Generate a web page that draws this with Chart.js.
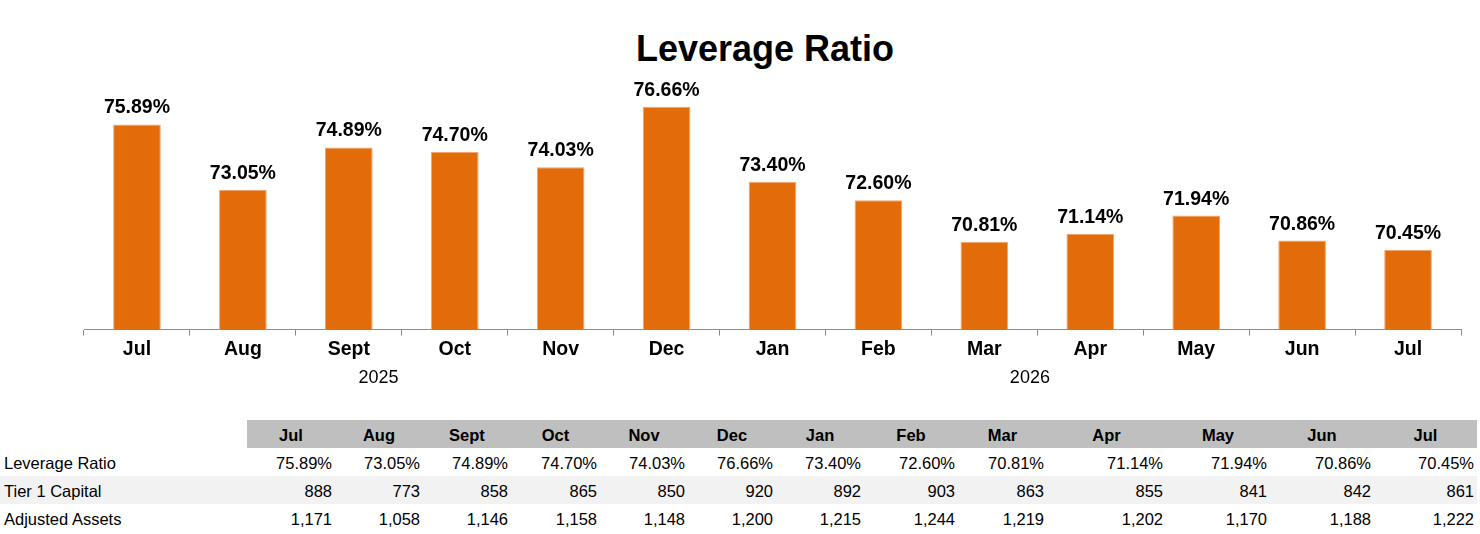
<!DOCTYPE html>
<html>
<head>
<meta charset="utf-8">
<script src="https://cdn.jsdelivr.net/npm/chart.js@4.4.1/dist/chart.umd.min.js"></script>
<style>
  html, body { margin: 0; padding: 0; background: #fff; }
  body { width: 1480px; height: 534px; position: relative; overflow: hidden;
         font-family: "Liberation Sans", Arial, sans-serif; color: #000; }
  #title { position: absolute; left: 636px; top: 31px; font-size: 36px; line-height: 36px;
           font-weight: bold; white-space: nowrap; }
  #chartBox { position: absolute; left: 0; top: 0; width: 1480px; height: 400px; }
  #tbl { position: absolute; left: 0; top: 420px; border-collapse: collapse; table-layout: fixed;
         font-size: 16.5px; }
  #tbl td, #tbl th { padding: 2px 0 0 0; height: 26px; line-height: 26px; white-space: nowrap; }
  #tbl th { font-weight: bold; text-align: center; background: #bfbfbf; }
  #tbl th.blank { background: #fff; }
  #tbl td { text-align: right; padding-right: 3px; }
  #tbl td.name { text-align: left; padding-left: 4px; padding-right: 0; }
  #tbl tr.shade td { background: #f2f2f2; }
</style>
</head>
<body>
<div id="title">Leverage Ratio</div>
<div id="chartBox"><canvas id="myChart" width="1480" height="400"></canvas></div>
<table id="tbl"></table>
<script>
const months = ['Jul', 'Aug', 'Sept', 'Oct', 'Nov', 'Dec', 'Jan', 'Feb', 'Mar', 'Apr', 'May', 'Jun', 'Jul'];
const leverageRatio = [75.89, 73.05, 74.89, 74.70, 74.03, 76.66, 73.40, 72.60, 70.81, 71.14, 71.94, 70.86, 70.45];
const tier1Capital = [888, 773, 858, 865, 850, 920, 892, 903, 863, 855, 841, 842, 861];
const adjustedAssets = [1171, 1058, 1146, 1158, 1148, 1200, 1215, 1244, 1219, 1202, 1170, 1188, 1222];
const years = ['2025', '2026'];

// where the year captions sit, in category units
const yearPos = [2.28, 8.43];
// table column widths (first one is the row names)
const colWidths = [247, 88, 88, 88, 89, 88, 88, 88, 94, 89, 119, 104, 104, 103];

const orange = '#e36c0a';
const axisGray = '#8c8c8c';

const barLabels = {
    id: 'barLabels',
    afterDatasetsDraw(chart) {
        const ctx = chart.ctx;
        const meta = chart.getDatasetMeta(0);
        ctx.save();
        ctx.font = 'bold 19.5px "Liberation Sans", Arial, sans-serif';
        ctx.fillStyle = '#000';
        ctx.textAlign = 'center';
        ctx.textBaseline = 'alphabetic';
        meta.data.forEach((bar, i) => {
            ctx.fillText(leverageRatio[i].toFixed(2) + '%', bar.x, bar.y - 11);
        });
        ctx.restore();
    },
    afterDraw(chart) {
        const ctx = chart.ctx;
        const xs = chart.scales.x;
        ctx.save();
        ctx.font = '18px "Liberation Sans", Arial, sans-serif';
        ctx.fillStyle = '#000';
        ctx.textAlign = 'center';
        ctx.textBaseline = 'alphabetic';
        years.forEach((y, i) => {
            ctx.fillText(y, xs.getPixelForValue(yearPos[i]), chart.chartArea.bottom + 53);
        });
        ctx.restore();
    }
};

new Chart(document.getElementById('myChart').getContext('2d'), {
    type: 'bar',
    data: {
        labels: months,
        datasets: [{
            label: 'Leverage Ratio',
            data: leverageRatio,
            backgroundColor: orange,
            borderColor: '#f3a46c',
            borderWidth: 1,
            barPercentage: 0.45,
            categoryPercentage: 1
        }]
    },
    options: {
        responsive: false,
        animation: false,
        layout: { padding: { left: 84, right: 19, top: 60, bottom: 37 } },
        plugins: {
            legend: { display: false },
            tooltip: { enabled: false }
        },
        scales: {
            y: { display: false, min: 67, max: 78.68 },
            x: {
                grid: {
                    drawOnChartArea: false,
                    drawTicks: true,
                    tickLength: 6,
                    color: c => c.index === months.length ? 'rgba(0,0,0,0)' : axisGray
                },
                border: { display: true, color: axisGray, width: 1 },
                ticks: {
                    color: '#000',
                    padding: 2,
                    font: { family: '"Liberation Sans", Arial, sans-serif', size: 19.5, weight: 'bold', lineHeight: 1.2 }
                }
            }
        }
    },
    plugins: [barLabels]
});

// data table under the chart
const tbl = document.getElementById('tbl');
let html = '<colgroup>' + colWidths.map(w => '<col style="width:' + w + 'px">').join('') + '</colgroup>';
html += '<tr><th class="blank"></th>' + months.map(m => '<th>' + m + '</th>').join('') + '</tr>';
const fmt = n => n.toLocaleString('en-US');
html += '<tr><td class="name">Leverage Ratio</td>' + leverageRatio.map(v => '<td>' + v.toFixed(2) + '%</td>').join('') + '</tr>';
html += '<tr class="shade"><td class="name">Tier 1 Capital</td>' + tier1Capital.map(v => '<td>' + fmt(v) + '</td>').join('') + '</tr>';
html += '<tr><td class="name">Adjusted Assets</td>' + adjustedAssets.map(v => '<td>' + fmt(v) + '</td>').join('') + '</tr>';
tbl.innerHTML = html;
</script>
</body>
</html>
